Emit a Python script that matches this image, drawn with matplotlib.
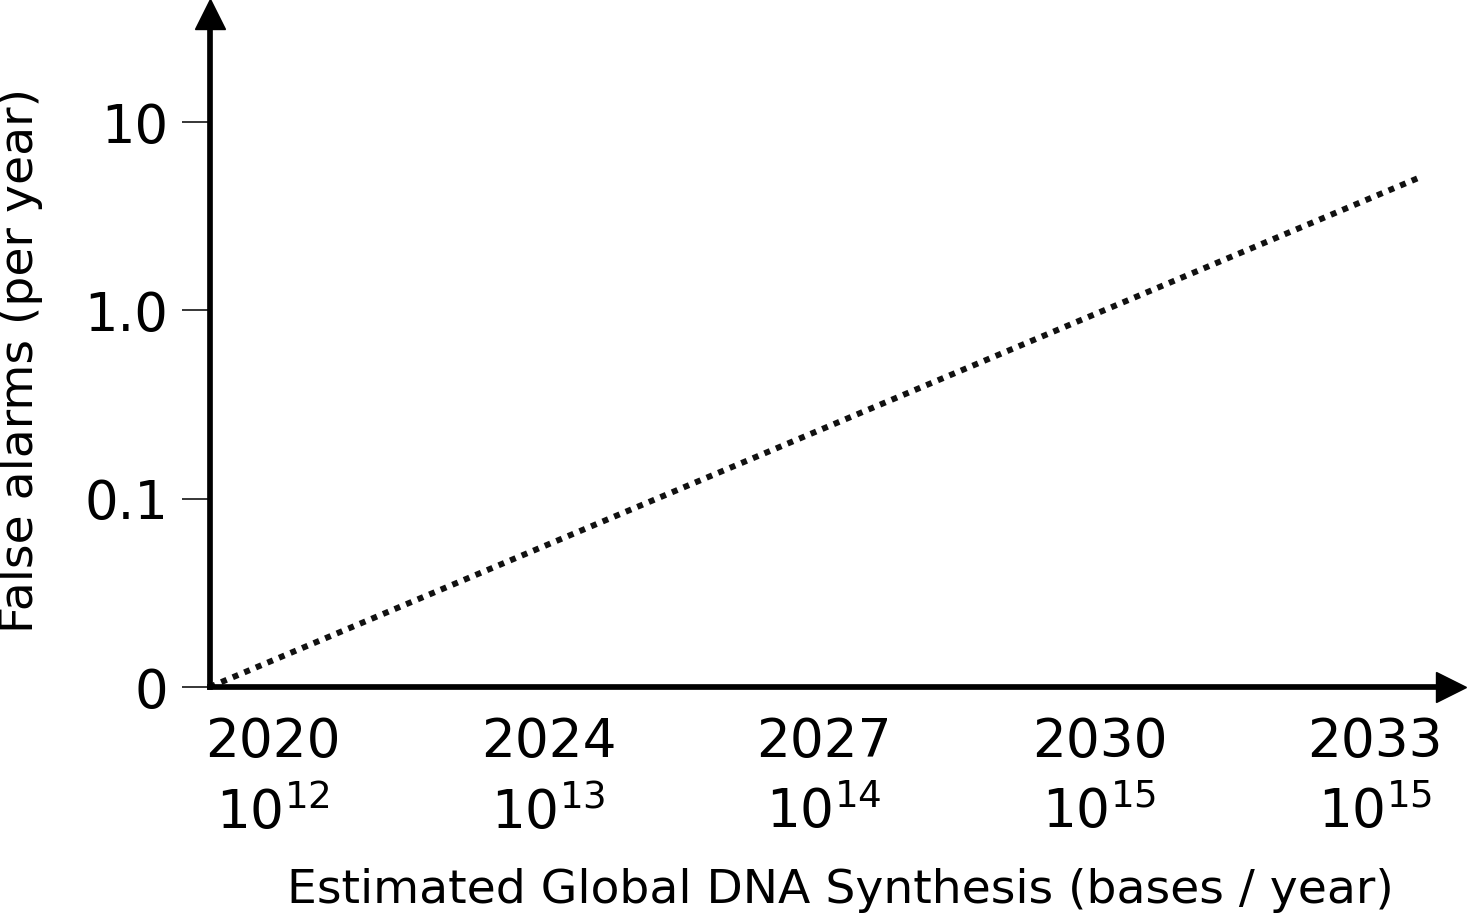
import numpy as np
import matplotlib
matplotlib.use("Agg")
import matplotlib.pyplot as plt

# ===========================
#   DADOS
# ===========================
anos = ["2020", "2024", "2027", "2030", "2033"]
expoentes = [12, 13, 14, 15, 15]

yticks = [0, 0.1, 1.0, 10]
yticks_txt = ["0", "0.1", "1.0", "10"]

# linha de alarmes falsos (posição na categoria, valor)
linha_x = [-0.23, 4.165]
linha_y = [0.0, 5.1]


# escala: linear de 0 a 0.1, depois log
def para_frente(v):
    v = np.asarray(v, dtype=float)
    with np.errstate(divide="ignore", invalid="ignore"):
        lg = np.log10(np.where(v > 0, v, 1e-12)) + 2
    return np.where(v < 0.1, v * 10, lg)


def para_tras(p):
    p = np.asarray(p, dtype=float)
    return np.where(p < 1, p / 10, 10 ** (p - 2))


# ===========================
#   FIGURA
# ===========================
W, H = 1467, 913
fig = plt.figure(figsize=(W / 100, H / 100), dpi=100)

x0, x1 = 210, 1451
y0, y1 = 687, 14
ax = fig.add_axes([x0 / W, 1 - y0 / H, (x1 - x0) / W, (y0 - y1) / H])

ax.set_yscale("function", functions=(para_frente, para_tras))

ax.plot(linha_x, linha_y, color="#111111", linewidth=4.3,
        linestyle=(0, (1.0, 1.1)), dash_capstyle="butt", clip_on=False)

# limites
ax.set_xlim((x0 - 273) / 275.5, (x1 - 273) / 275.5)
ax.set_ylim(0, 10 ** ((y0 - y1) / 188.33 - 2))

ax.set_xticks(range(len(anos)))
ax.set_xticklabels([f"{a}\n$10^{{{e}}}$" for a, e in zip(anos, expoentes)],
                   fontsize=38.3, linespacing=1.43)
ax.tick_params(axis="x", length=0, pad=21)

ax.set_yticks(yticks)
ax.set_yticklabels(yticks_txt, fontsize=38)
ax.yaxis.set_minor_locator(matplotlib.ticker.NullLocator())
ax.tick_params(axis="y", length=20, width=1.1, pad=10)

for lado in ["top", "right"]:
    ax.spines[lado].set_visible(False)
for lado in ["left", "bottom"]:
    ax.spines[lado].set_linewidth(4.1)
    ax.spines[lado].set_capstyle("projecting")

# setas
ax.plot(1, 0, ">k", markersize=21.5, transform=ax.transAxes, clip_on=False)
ax.plot(0, 1, "^k", markersize=21.5, transform=ax.transAxes, clip_on=False)

ax.set_xlabel("Estimated Global DNA Synthesis (bases / year)", fontsize=34)
ax.xaxis.label.set_va("baseline")
ax.xaxis.set_label_coords((840 - x0) / (x1 - x0), -(903 - y0) / (y0 - y1))

ax.set_ylabel("False alarms (per year)", fontsize=34)
ax.yaxis.set_label_coords(-(x0 - 21) / (x1 - x0), (y0 - 360) / (y0 - y1))
ax.yaxis.label.set_va("center")

fig.savefig("out.png", dpi=100)
